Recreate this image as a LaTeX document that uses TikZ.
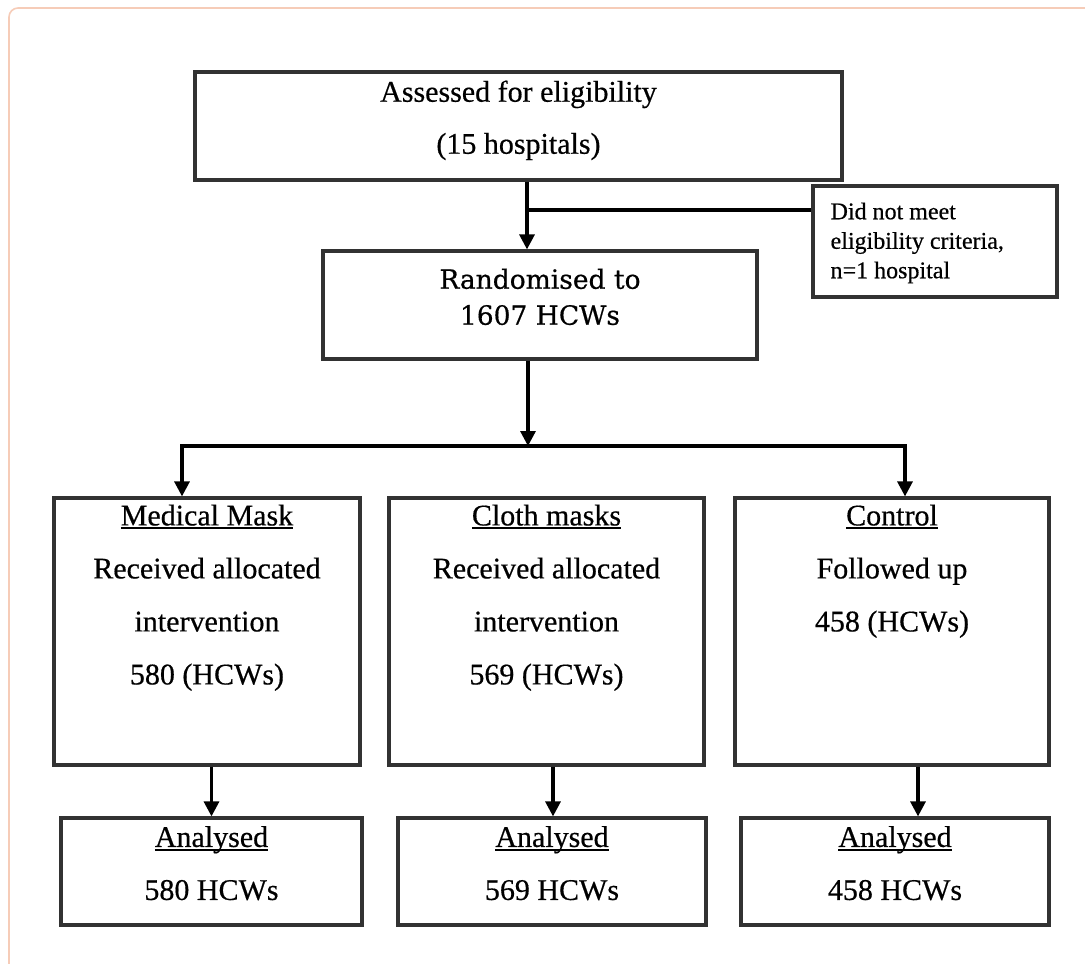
\documentclass[tikz,border=0pt]{standalone}
\usepackage{fontspec}
\setmainfont{Liberation Serif}[FakeBold=0.5]
\newfontfamily\randfont{DejaVu Serif}[FakeBold=0.6]
\usetikzlibrary{arrows.meta}
\definecolor{framegray}{RGB}{50,50,50}
\definecolor{peach}{RGB}{246,204,184}
% underline that runs through descenders
\newcommand\ulbar[1]{\setbox0\hbox{#1}\rlap{\rule[-4pt]{\wd0}{2pt}}\box0}
\begin{document}
\begin{tikzpicture}[x=1pt,y=-1pt,
    >={Triangle[width=15pt,length=15pt]},
    box/.style={draw=framegray, line width=3.2pt, inner sep=0pt},
    txt/.style={align=center, inner sep=0pt, anchor=north, font=\fontsize{30}{53}\selectfont},
    link/.style={line width=3.2pt}]
			\useasboundingbox (0,0) rectangle (1085,964);
			\draw[peach, line width=1.6pt, rounded corners=9pt] (9,8) rectangle (1120,1000);
			% top part
			\node[box, minimum width=647pt, minimum height=108pt] (elig) at (518.5,126) {};
			\node[txt, font=\fontsize{30}{52}\selectfont] (elig-t) at ([yshift=-10pt]elig.north) {Assessed for eligibility\\(15 hospitals)};
			\node[box, minimum width=244pt, minimum height=111pt] (excl) at (935,241.5) {};
			\node[txt, align=left, anchor=north west, font=\fontsize{24}{29.5}\selectfont] (excl-t)
				at ([xshift=19pt,yshift=-18pt]excl.north west) {Did not meet\\eligibility criteria,\\n=1 hospital};
			\node[box, minimum width=434pt, minimum height=108pt] (rnd) at (540,305) {};
			\node[txt, font=\randfont\fontsize{26.5}{36}\selectfont] (rnd-t) at ([yshift=-19pt]rnd.north) {Randomised to\\1607 HCWs};
			% three arms
			\node[box, minimum width=306pt, minimum height=267pt] (med) at (207,631.5) {};
			\node[txt] (med-t) at ([yshift=-8pt]med.north) {\ulbar{Medical Mask}\\Received allocated\\intervention\\580 (HCWs)};
			\node[box, minimum width=315pt, minimum height=267pt] (cloth) at (546.5,631.5) {};
			\node[txt] (cloth-t) at ([yshift=-8pt]cloth.north) {\ulbar{Cloth masks}\\Received allocated\\intervention\\569 (HCWs)};
			\node[box, minimum width=314pt, minimum height=267pt] (ctl) at (892,631.5) {};
			\node[txt] (ctl-t) at ([yshift=-8pt]ctl.north) {\ulbar{Control}\\Followed up\\458 (HCWs)};
			\foreach \nm/\cx/\w/\num in {anaMed/211.5/301/580, anaCloth/552/308/569, anaCtl/895/308/458}{
				\node[box, minimum width=\w pt, minimum height=107pt] (\nm) at (\cx,871.5) {};
				\node[txt] (\nm-t) at ([yshift=-9.5pt]\nm.north) {\ulbar{Analysed}\\\num\ HCWs};
			}
			% connectors
			\coordinate (split) at (527,210);
			\draw[link, ->] (split |- elig.south) -- (split |- rnd.north);
			\draw[link] (split) -- (split -| excl.west);
			\coordinate (fork) at (528,446);
			\draw[link, ->] (fork |- rnd.south) -- (fork);
			\coordinate (forkL) at (182,446);
			\coordinate (forkR) at (905,446);
			\draw[link, <->] (forkL |- med.north) -- (forkL) -- (forkR) -- (forkR |- ctl.north);
			\foreach \a/\b/\dx in {med/anaMed/0, cloth/anaCloth/1, ctl/anaCtl/23}{
				\draw[link, ->] ([xshift=\dx pt]\b.north |- \a.south) -- ([xshift=\dx pt]\b.north);
			}
		\end{tikzpicture}
\end{document}
